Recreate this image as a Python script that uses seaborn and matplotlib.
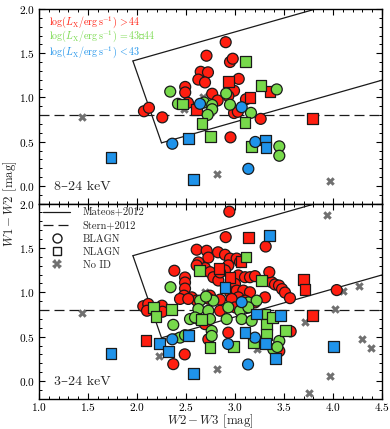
import matplotlib
matplotlib.use("Agg")
import matplotlib.pyplot as plt
from matplotlib.lines import Line2D
from matplotlib.ticker import MultipleLocator
import numpy as np
import pandas as pd
import seaborn as sns

# ---- 8-24 keV sample (top panel) ----
hard_red_bl = [(2.905, 1.625), (2.709, 1.472), (2.949, 1.401), (2.977, 1.438), (2.650, 1.290),
               (2.724, 1.284), (2.626, 1.202), (2.694, 1.170), (3.038, 1.210), (2.492, 1.119),
               (2.492, 1.057), (2.767, 1.042), (2.990, 1.076), (2.932, 1.015), (3.112, 0.980),
               (2.823, 0.966), (2.520, 0.940), (2.990, 0.824), (3.029, 0.838), (3.262, 0.758),
               (2.954, 0.549), (2.071, 0.844), (2.122, 0.883), (2.258, 0.775)]
hard_red_nl = [(2.936, 1.185), (3.357, 1.068), (3.153, 1.000), (2.605, 0.864), (3.789, 0.758)]
hard_green_bl = [(3.426, 1.091), (2.910, 1.045), (2.684, 0.943), (2.767, 0.915), (2.767, 0.867),
                 (2.949, 0.918), (2.721, 0.803), (3.163, 0.826), (3.452, 0.447), (3.452, 0.341),
                 (2.339, 1.066), (2.418, 0.928)]
hard_green_nl = [(3.109, 1.409), (3.265, 1.133), (2.469, 0.926), (2.663, 0.705), (3.102, 0.719),
                 (2.748, 0.559), (3.166, 0.441)]
hard_blue_bl = [(2.643, 0.928), (3.068, 0.890), (3.207, 0.497), (3.136, 0.193), (2.360, 0.477)]
hard_blue_nl = [(2.526, 0.532), (3.313, 0.519), (3.316, 0.432), (2.579, 0.074), (1.735, 0.322)]
hard_noid = [(2.673, 1.006), (2.480, 0.864), (1.442, 0.776), (2.813, 0.136), (3.969, 0.057)]

# ---- 3-24 keV sample (bottom panel) ----
full_red_bl = [(2.942, 1.909), (2.905, 1.622), (3.313, 1.516), (2.609, 1.480), (2.711, 1.468),
               (2.827, 1.451), (2.898, 1.423), (2.949, 1.380), (3.017, 1.380), (3.051, 1.341),
               (2.728, 1.391), (2.626, 1.337), (2.694, 1.273), (2.745, 1.227), (2.779, 1.170),
               (2.830, 1.133), (2.932, 1.303), (2.898, 1.247), (2.847, 1.224), (3.034, 1.190),
               (3.102, 1.170), (3.153, 1.170), (3.204, 1.182), (3.323, 1.133), (3.374, 1.114),
               (3.000, 1.095), (2.949, 1.000), (3.017, 1.019), (3.085, 1.019), (3.153, 1.000),
               (3.306, 0.943), (2.745, 0.962), (3.034, 0.943), (3.085, 0.868), (2.728, 0.928),
               (2.847, 0.917), (2.966, 0.925), (3.102, 0.906), (3.204, 0.886), (2.847, 0.792),
               (3.000, 0.830), (2.694, 0.641), (2.932, 0.545), (2.728, 0.470), (3.452, 0.337),
               (2.487, 0.300), (2.381, 1.243), (2.490, 1.167), (2.490, 1.110), (2.490, 1.042),
               (2.480, 0.962), (2.558, 0.943), (2.609, 0.906), (2.064, 0.843), (2.115, 0.868),
               (2.255, 0.849), (2.260, 0.781), (2.102, 0.792), (2.439, 0.925), (2.523, 0.925),
               (2.370, 0.190), (3.350, 1.227), (3.408, 1.088), (3.449, 1.076), (3.480, 1.036),
               (3.510, 0.997), (3.561, 0.934), (4.038, 1.025), (3.568, 0.559), (2.609, 1.303)]
full_red_nl = [(3.133, 1.614), (3.061, 1.349), (2.837, 1.266), (2.949, 1.170), (3.697, 1.144),
               (3.714, 1.027), (3.786, 0.743), (2.092, 0.459)]
full_green_bl = [(2.643, 0.906), (2.779, 0.906), (3.136, 0.886), (3.221, 0.906), (2.626, 0.811),
                 (2.728, 0.792), (2.932, 0.830), (3.051, 0.792), (3.136, 0.830), (2.626, 0.698),
                 (2.745, 0.698), (2.915, 0.698), (3.068, 0.698), (3.170, 0.678), (2.762, 0.565),
                 (2.762, 0.508), (3.391, 0.357), (3.452, 0.451), (3.432, 0.383), (2.342, 1.057),
                 (2.370, 0.633), (2.439, 0.489), (2.490, 0.516), (2.541, 0.698), (2.592, 0.716),
                 (2.704, 0.951)]
full_green_nl = [(3.112, 1.398), (3.272, 1.133), (2.633, 1.247), (3.306, 0.755), (2.660, 0.698),
                 (3.323, 0.641), (3.323, 0.527), (3.184, 0.432), (2.745, 0.375), (2.983, 0.394),
                 (3.520, 0.565), (3.385, 0.716), (2.168, 0.832), (2.194, 0.730), (2.354, 0.811)]
full_blue_bl = [(3.068, 0.889), (3.204, 0.489), (2.929, 0.417), (3.133, 0.186), (2.360, 0.470)]
full_blue_nl = [(3.350, 1.644), (2.898, 1.057), (3.221, 0.755), (3.464, 0.735), (3.102, 0.545),
                (3.311, 0.419), (3.418, 0.250), (2.523, 0.517), (2.227, 0.423), (2.319, 0.337),
                (2.577, 0.082), (1.735, 0.311), (4.003, 0.389)]
full_noid = [(3.936, 1.872), (4.099, 1.019), (4.265, 1.076), (4.020, 0.811), (3.717, 0.661),
             (4.293, 0.470), (4.385, 0.375), (3.224, 0.360), (2.813, 0.133), (3.969, 0.053),
             (3.758, -0.136), (2.228, 0.281), (1.442, 0.769), (2.694, 1.000)]

LUM_COLORS = {"high": "#ff1e10", "mid": "#77d94b", "low": "#1f93ea"}
NOID_COLOR = "#707070"

# Mateos+2012 wedge and Stern+2012 cut
MATEOS_SLOPE = 0.315
MATEOS_TOP = 0.796
MATEOS_BOTTOM = -0.222
MATEOS_PERP_SLOPE = -3.172
MATEOS_PERP_ICPT = 7.624
STERN_CUT = 0.8


def build_frame(groups):
    rows = []
    for (lum, kind), pts in groups.items():
        for x, y in pts:
            rows.append({"x": x, "y": y, "lum": lum, "type": kind})
    return pd.DataFrame(rows)


def draw_panel(ax, groups, noid, band):
    df = build_frame(groups)
    sns.scatterplot(data=df, x="x", y="y", hue="lum", style="type",
                    palette=LUM_COLORS, markers={"BLAGN": "o", "NLAGN": "s"},
                    s=62, edgecolor="k", linewidth=0.9, legend=False, ax=ax, zorder=3)
    nd = pd.DataFrame(noid, columns=["x", "y"])
    sns.scatterplot(data=nd, x="x", y="y", marker="X", color=NOID_COLOR, s=38,
                    linewidth=0, legend=False, ax=ax, zorder=2)

    # wedge
    x_top0 = (MATEOS_PERP_ICPT - MATEOS_TOP) / (MATEOS_SLOPE - MATEOS_PERP_SLOPE)
    x_bot0 = (MATEOS_PERP_ICPT - MATEOS_BOTTOM) / (MATEOS_SLOPE - MATEOS_PERP_SLOPE)
    xt = np.array([x_top0, 5.0])
    xb = np.array([x_bot0, 5.0])
    xp = np.array([x_top0, x_bot0])
    ax.plot(xt, MATEOS_SLOPE * xt + MATEOS_TOP, color="k", lw=0.9, zorder=1)
    ax.plot(xb, MATEOS_SLOPE * xb + MATEOS_BOTTOM, color="k", lw=0.9, zorder=1)
    ax.plot(xp, MATEOS_PERP_SLOPE * xp + MATEOS_PERP_ICPT, color="k", lw=0.9, zorder=1)
    ax.axhline(STERN_CUT, color="k", lw=0.9, ls=(0, (8, 4)), zorder=1)

    ax.set_xlim(1.0, 4.5)
    ax.set_ylim(-0.2, 2.0)
    ax.xaxis.set_major_locator(MultipleLocator(0.5))
    ax.xaxis.set_minor_locator(MultipleLocator(0.1))
    ax.yaxis.set_major_locator(MultipleLocator(0.5))
    ax.yaxis.set_minor_locator(MultipleLocator(0.1))
    ax.tick_params(which="both", direction="in", top=True, right=True, labelsize=8.2)
    ax.tick_params(which="major", length=4.5, width=0.8, pad=3)
    ax.tick_params(axis="x", which="major", pad=2)
    ax.tick_params(which="minor", length=2.5, width=0.7)
    for sp in ax.spines.values():
        sp.set_linewidth(1.0)
    ax.set_xlabel("")
    ax.set_ylabel("")
    ax.text(0.045, 0.085, band, transform=ax.transAxes, fontsize=10,
            ha="left", va="center")


sns.set_theme(style="ticks")
plt.rcParams["font.family"] = ["cmr10", "DejaVu Serif"]
plt.rcParams["mathtext.fontset"] = "cm"
plt.rcParams["axes.formatter.use_mathtext"] = True
plt.rcParams["axes.edgecolor"] = "black"
plt.rcParams["xtick.color"] = "black"
plt.rcParams["ytick.color"] = "black"

fig = plt.figure(figsize=(3.9, 4.29), dpi=100)
ax_top = fig.add_axes([0.1, 0.5254, 0.8795, 0.4536])
ax_bot = fig.add_axes([0.1, 0.0706, 0.8795, 0.4548])

draw_panel(ax_top, {("high", "BLAGN"): hard_red_bl, ("high", "NLAGN"): hard_red_nl,
                    ("mid", "BLAGN"): hard_green_bl, ("mid", "NLAGN"): hard_green_nl,
                    ("low", "BLAGN"): hard_blue_bl, ("low", "NLAGN"): hard_blue_nl},
           hard_noid, "8\u201324 keV")
draw_panel(ax_bot, {("high", "BLAGN"): full_red_bl, ("high", "NLAGN"): full_red_nl,
                    ("mid", "BLAGN"): full_green_bl, ("mid", "NLAGN"): full_green_nl,
                    ("low", "BLAGN"): full_blue_bl, ("low", "NLAGN"): full_blue_nl},
           full_noid, "3\u201324 keV")
ax_top.tick_params(labelbottom=False)

lum_txt = r"$\log(L_{\rm X}/{\rm erg\,s^{-1}})$"
ax_top.text(0.03, 0.935, lum_txt + r"$\,>44$", color=LUM_COLORS["high"],
            transform=ax_top.transAxes, fontsize=7.2, va="center")
ax_top.text(0.03, 0.860, lum_txt + r"$\,=43$" + "\u2013" + r"$44$", color=LUM_COLORS["mid"],
            transform=ax_top.transAxes, fontsize=7.2, va="center")
ax_top.text(0.03, 0.780, lum_txt + r"$\,<43$", color=LUM_COLORS["low"],
            transform=ax_top.transAxes, fontsize=7.2, va="center")

handles = [
    Line2D([], [], color="k", lw=0.9, label="Mateos+2012"),
    Line2D([], [], color="k", lw=0.9, ls=(0, (8, 4)), label="Stern+2012"),
    Line2D([], [], ls="none", marker="o", mfc="white", mec="k", ms=6.5, label="BLAGN"),
    Line2D([], [], ls="none", marker="s", mfc="white", mec="k", ms=6, label="NLAGN"),
    Line2D([], [], ls="none", marker="X", color=NOID_COLOR, mew=0, ms=6.5, label="No ID"),
]
ax_bot.legend(handles=handles, loc="upper left", frameon=False, fontsize=7.5,
              handlelength=2.6, handletextpad=1.2, labelspacing=0.35,
              borderaxespad=0.2, borderpad=0.2)

fig.text(0.54, 1 - 421 / 429, r"$W2-W3$ [mag]", fontsize=9.2,
         ha="center", va="center")
fig.text(0.026, 1 - 203.6 / 429, r"$W1-W2$ [mag]", rotation=90, fontsize=9.2,
         ha="center", va="center")

fig.savefig("out.png", dpi=100)
